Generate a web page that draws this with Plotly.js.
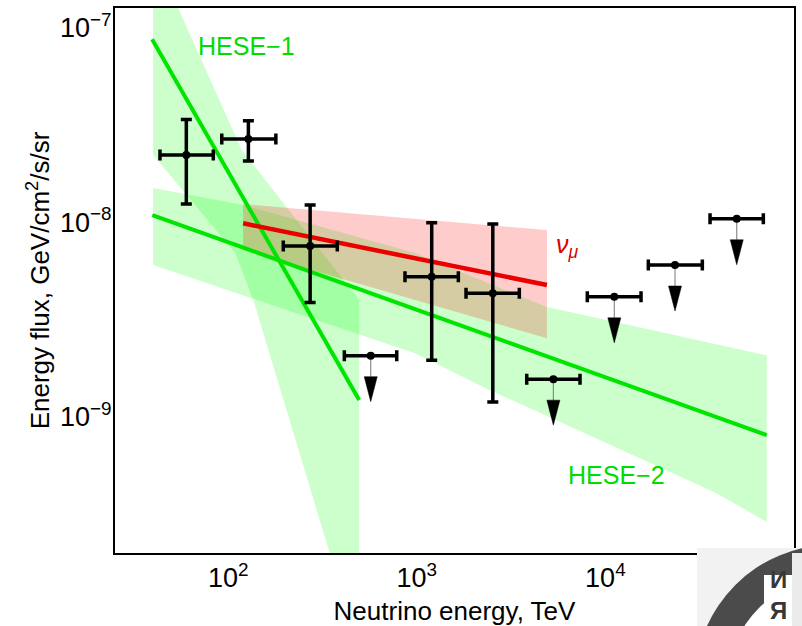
<!DOCTYPE html>
<html>
<head>
<meta charset="utf-8">
<script src="https://cdn.plot.ly/plotly-3.0.1.min.js"></script>
<style>html,body{margin:0;padding:0;background:#fff;}#chart{width:802px;height:626px;}</style>
</head>
<body>
<div id="chart"></div>
<script>
// ---------------- data ----------------
// Measured points with error bars (energy in TeV, flux in GeV/cm2/s/sr)
const pointsE    = [60, 128, 272, 1200, 2530];
const pointsElo  = [43.5, 92.5, 196, 866, 1824];
const pointsEhi  = [83.4, 179, 379, 1661, 3497];
const pointsF    = [2.21e-8, 2.67e-8, 7.53e-9, 5.24e-9, 4.31e-9];
const pointsFlo  = [1.24e-8, 2.06e-8, 3.86e-9, 1.95e-9, 1.19e-9];
const pointsFhi  = [3.37e-8, 3.32e-8, 1.225e-8, 9.93e-9, 9.77e-9];

// Upper limits
const limitsE    = [570, 5300, 11150, 23400, 49700];
const limitsElo  = [413, 3828, 8020, 16890, 35880];
const limitsEhi  = [783, 7336, 15450, 32660, 68780];
const limitsF    = [2.06e-9, 1.56e-9, 4.13e-9, 6.02e-9, 1.04e-8];

// HESE-1 fit line and band
const hese1LineE = [39.5, 495];
const hese1LineF = [8.69e-8, 1.22e-9];
const hese1BandE = [40, 118, 495, 495, 411, 136, 109, 40];
const hese1BandF = [2.44e-7, 2.35e-8, 3.98e-9, 1.14e-10, 1.14e-10, 3.98e-9, 6.93e-9, 2.21e-8];

// HESE-2 fit line and band
const hese2LineE = [39.6, 71700];
const hese2LineF = [1.087e-8, 8.05e-10];
const hese2BandE = [40, 120, 980, 4850, 71700, 71700, 38900, 2445, 980, 40];
const hese2BandF = [1.496e-8, 1.224e-8, 6.93e-9, 3.67e-9, 2.07e-9, 2.88e-10, 4.04e-10, 1.37e-9, 2.12e-9, 6.02e-9];

// nu_mu fit line and band
const numuLineE = [120, 4900];
const numuLineF = [9.86e-9, 4.75e-9];
const numuBandE = [120, 4900, 4900, 120];
const numuBandF = [1.238e-8, 9.1e-9, 2.53e-9, 7.18e-9];

// Axis ticks
const xTickVals = [100, 1000, 10000];
const xTickText = ['10<sup>2</sup>', '10<sup>3</sup>', '10<sup>4</sup>'];
const yTickVals = [1e-9, 1e-8, 1e-7];
const yTickText = ['10<sup>\u22129</sup>', '10<sup>\u22128</sup>', '10<sup>\u22127</sup>'];

// ---------------- layout geometry ----------------
const W = 802, H = 626;
const M = {l: 115, r: 8, t: 8, b: 73};
const xRange = [1.4, 5.0];
const yRange = [-9.7, -6.9];
const pxPerDecX = (W - M.l - M.r) / (xRange[1] - xRange[0]);
const pxPerDecY = (H - M.t - M.b) / (yRange[1] - yRange[0]);
function paperX(px) { return (px - M.l) / (W - M.l - M.r); }
function paperY(py) { return (H - M.b - py) / (H - M.t - M.b); }

// arrow geometry (pixels) for upper limits
const arrowLen = 46, headLen = 25, headHalf = 6.5;

const shaftX = [], shaftY = [], headX = [], headY = [];
limitsE.forEach((e, i) => {
  const f = limitsF[i];
  const fHeadTop = f * Math.pow(10, -(arrowLen - headLen) / pxPerDecY);
  const fTip = f * Math.pow(10, -arrowLen / pxPerDecY);
  shaftX.push(e, e, null); shaftY.push(f, fHeadTop, null);
  const dx = Math.pow(10, headHalf / pxPerDecX);
  headX.push(e / dx, e * dx, e, e / dx, null);
  headY.push(fHeadTop, fHeadTop, fTip, fHeadTop, null);
});

const green = 'rgb(0,228,0)';
const greenFill = 'rgba(0,255,0,0.2)';
const redFill = 'rgba(255,0,0,0.2)';

const traces = [
  {x: hese1BandE, y: hese1BandF, mode: 'lines', fill: 'toself', fillcolor: greenFill, line: {width: 0}, hoverinfo: 'skip'},
  {x: hese2BandE, y: hese2BandF, mode: 'lines', fill: 'toself', fillcolor: greenFill, line: {width: 0}, hoverinfo: 'skip'},
  {x: numuBandE, y: numuBandF, mode: 'lines', fill: 'toself', fillcolor: redFill, line: {width: 0}, hoverinfo: 'skip'},
  {x: hese1LineE, y: hese1LineF, mode: 'lines', line: {color: green, width: 4}},
  {x: hese2LineE, y: hese2LineF, mode: 'lines', line: {color: green, width: 4}},
  {x: numuLineE, y: numuLineF, mode: 'lines', line: {color: 'rgb(235,0,0)', width: 4.5}},
  {x: shaftX, y: shaftY, mode: 'lines', line: {color: 'rgb(140,140,140)', width: 1.2}},
  {x: headX, y: headY, mode: 'lines', fill: 'toself', fillcolor: 'black', line: {color: 'black', width: 0.5}},
  {
    x: pointsE, y: pointsF, mode: 'markers',
    marker: {color: 'black', size: 8},
    error_x: {type: 'data', symmetric: false,
      array: pointsEhi.map((v, i) => v - pointsE[i]),
      arrayminus: pointsE.map((v, i) => v - pointsElo[i]),
      color: 'black', thickness: 3.5, width: 5.5},
    error_y: {type: 'data', symmetric: false,
      array: pointsFhi.map((v, i) => v - pointsF[i]),
      arrayminus: pointsF.map((v, i) => v - pointsFlo[i]),
      color: 'black', thickness: 3.5, width: 5.5}
  },
  {
    x: limitsE, y: limitsF, mode: 'markers',
    marker: {color: 'black', size: 8},
    error_x: {type: 'data', symmetric: false,
      array: limitsEhi.map((v, i) => v - limitsE[i]),
      arrayminus: limitsE.map((v, i) => v - limitsElo[i]),
      color: 'black', thickness: 3.5, width: 5.5}
  }
];

const font = 'Arial, "Liberation Sans", sans-serif';

const layout = {
  width: W, height: H,
  margin: M,
  paper_bgcolor: 'white', plot_bgcolor: 'white',
  showlegend: false,
  font: {family: font, color: 'black'},
  xaxis: {
    type: 'log', range: xRange, showgrid: false, zeroline: false,
    showline: true, mirror: true, linecolor: 'black', linewidth: 2,
    ticks: '', tickmode: 'array', tickvals: xTickVals, ticktext: xTickText,
    tickfont: {size: 27, family: font, color: 'black'}, ticklabelstandoff: 0,
    title: {text: 'Neutrino energy, TeV', font: {size: 26, family: font, color: 'black'}, standoff: 19}
  },
  yaxis: {
    type: 'log', range: yRange, showgrid: false, zeroline: false,
    showline: true, mirror: true, linecolor: 'black', linewidth: 2,
    ticks: '', tickmode: 'array', tickvals: yTickVals, ticktext: yTickText,
    tickfont: {size: 27, family: font, color: 'black'}, ticklabelstandoff: -4,
    title: {text: 'Energy flux, GeV/cm<sup>2</sup>/s/sr', font: {size: 26, family: font, color: 'black'}, standoff: 3}
  },
  annotations: [
    {xref: 'paper', yref: 'paper', x: paperX(246.5), y: paperY(46), text: 'HESE\u22121', showarrow: false,
      font: {size: 25, color: 'rgb(0,220,0)', family: font}, xanchor: 'center', yanchor: 'middle'},
    {xref: 'paper', yref: 'paper', x: paperX(616), y: paperY(475), text: 'HESE\u22122', showarrow: false,
      font: {size: 25, color: 'rgb(0,220,0)', family: font}, xanchor: 'center', yanchor: 'middle'},
    {xref: 'paper', yref: 'paper', x: paperX(554), y: paperY(246), text: '<i>\u03bd<sub>\u03bc</sub></i>', showarrow: false,
      font: {size: 25, color: 'rgb(220,0,0)', family: font}, xanchor: 'left', yanchor: 'middle'},
    // logo letters
    {xref: 'paper', yref: 'paper', x: paperX(778), y: paperY(625), text: '<b>\u0418<br>\u042f</b>', showarrow: false,
      font: {size: 24, color: 'rgb(55,55,55)', family: font}, xanchor: 'center', yanchor: 'bottom', borderpad: 0}
  ],
  shapes: [
    // logo background
    {type: 'rect', xref: 'paper', yref: 'paper', x0: paperX(697), x1: paperX(803), y0: paperY(627), y1: paperY(548),
      fillcolor: 'rgb(242,242,242)', line: {width: 0}, layer: 'above'},
    {type: 'circle', xref: 'paper', yref: 'paper', xsizemode: 'pixel', ysizemode: 'pixel',
      xanchor: paperX(832), yanchor: paperY(682), x0: -137, x1: 137, y0: -137, y1: 137,
      fillcolor: 'rgb(75,75,75)', line: {width: 0}, layer: 'above'},
    {type: 'circle', xref: 'paper', yref: 'paper', xsizemode: 'pixel', ysizemode: 'pixel',
      xanchor: paperX(832), yanchor: paperY(682), x0: -104, x1: 104, y0: -104, y1: 104,
      fillcolor: 'white', line: {width: 0}, layer: 'above'},
    {type: 'rect', xref: 'paper', yref: 'paper', x0: paperX(764), x1: paperX(792), y0: paperY(627), y1: paperY(575),
      fillcolor: 'white', line: {width: 0}, layer: 'above'},
    {type: 'rect', xref: 'paper', yref: 'paper', x0: paperX(792), x1: paperX(803), y0: paperY(627), y1: paperY(553),
      fillcolor: 'rgb(235,235,235)', line: {width: 0}, layer: 'above'}
  ]
};

Plotly.newPlot('chart', traces, layout, {staticPlot: true, displayModeBar: false});
</script>
</body>
</html>
